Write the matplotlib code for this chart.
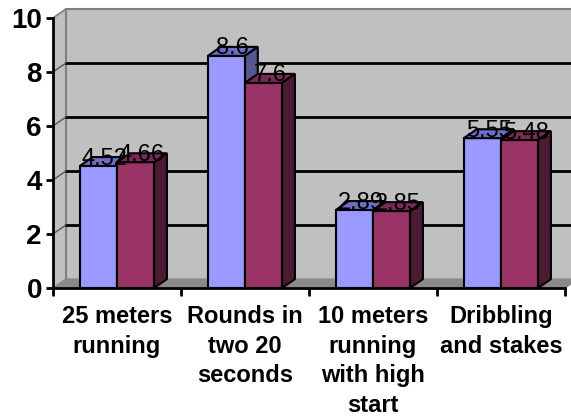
import matplotlib
matplotlib.use("Agg")
import matplotlib.pyplot as plt
import numpy as np

# data
categories = ["25 meters\nrunning", "Rounds in\ntwo 20\nseconds",
              "10 meters\nrunning\nwith high\nstart", "Dribbling\nand stakes"]
series_a = [4.52, 8.6, 2.89, 5.55]
series_b = [4.66, 7.6, 2.85, 5.48]
label_a = ["4.52", "8.6", "2.89", "5.55"]
label_b = ["4.66", "7.6", "2.85", "5.48"]
y_ticks = [0, 2, 4, 6, 8, 10]

# look of the fake 3d
dx, dy = 0.1, 0.33
bw = 0.29
wall_c = "#C0C0C0"
floor_c = "#8A8A8A"
edge_c = "#808080"
cols = {"a": ("#9999FF", "#6E6EC4", "#565690"),
        "b": ("#993366", "#7A2952", "#4D1A33")}

plt.rcParams["font.family"] = ["Liberation Sans", "DejaVu Sans"]

fig = plt.figure(figsize=(5.71, 4.18), dpi=100)
ax = fig.add_axes([53 / 571, 130 / 418, 4.4 * 128 / 571, 10.7 * 27 / 418])
ax.set_xlim(0, 4.4)
ax.set_ylim(0, 10.7)

n = len(categories)
# walls and floor
ax.fill([dx, n + dx, n + dx, dx], [dy, dy, 10 + dy, 10 + dy], color=wall_c, zorder=0)
ax.fill([0, dx, dx, 0], [0, dy, 10 + dy, 10], color=wall_c, zorder=0)
ax.fill([0, n, n + dx, dx], [0, 0, dy, dy], color=floor_c, zorder=1)
ax.plot([dx, dx, n + dx], [dy, 10 + dy, 10 + dy], color=edge_c, lw=1.5, zorder=1)
ax.plot([0, dx], [10, 10 + dy], color=edge_c, lw=1.2, zorder=1)
for v in y_ticks[1:-1]:
    ax.plot([dx, n + dx], [v + dy, v + dy], color="black", lw=2, zorder=1)
    ax.plot([0, dx], [v, v + dy], color="#555555", lw=1, zorder=1)


def bar3d(x0, h, c):
    front, top, side = c
    ax.bar(x0, h, width=bw, align="edge", color=front, edgecolor="black",
           linewidth=1.5, zorder=3)
    ax.fill([x0, x0 + bw, x0 + bw + dx, x0 + dx], [h, h, h + dy, h + dy],
            facecolor=top, edgecolor="black", linewidth=1.5, zorder=3)
    ax.fill([x0 + bw, x0 + bw + dx, x0 + bw + dx, x0 + bw], [0, dy, h + dy, h],
            facecolor=side, edgecolor="black", linewidth=1.5, zorder=3)


for i in range(n):
    c = i + 0.5
    bar3d(c - bw, series_a[i], cols["a"])
    bar3d(c, series_b[i], cols["b"])

# value labels sit on the bar tops and overlap like in the original
for i in range(n):
    c = i + 0.5
    ax.text(c - bw / 2 + dx / 2, series_a[i] + 0.05, label_a[i], ha="center",
            va="baseline", fontsize=17, zorder=5)
    ax.text(c + bw / 2 + dx / 2, series_b[i] + 0.05, label_b[i], ha="center",
            va="baseline", fontsize=17, zorder=5)

for s in ["top", "right"]:
    ax.spines[s].set_visible(False)
ax.spines["left"].set_bounds(0, 10)
ax.spines["bottom"].set_bounds(0, n)
ax.spines["left"].set_linewidth(2)
ax.spines["bottom"].set_linewidth(2)
ax.spines["left"].set_zorder(6)
ax.spines["bottom"].set_zorder(6)

ax.set_yticks(y_ticks)
ax.set_yticklabels([str(t) for t in y_ticks], fontsize=20, fontweight="bold")
ax.tick_params(axis="y", length=5, width=2, pad=3)

ax.set_xticks(range(n + 1))
ax.set_xticklabels([])
ax.set_xticks([i + 0.5 for i in range(n)], minor=True)
ax.set_xticklabels(categories, minor=True, fontsize=17, fontweight="bold",
                   linespacing=1.38)
ax.tick_params(axis="x", which="major", length=6, width=2)
ax.tick_params(axis="x", which="minor", length=0, pad=12)

fig.savefig("out.png", dpi=100)
